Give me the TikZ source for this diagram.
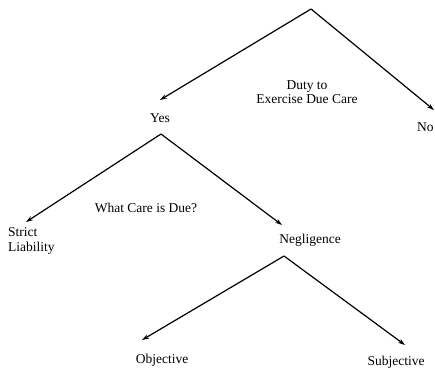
\documentclass[tikz,border=0pt]{standalone}
\usepackage{fontspec}
\setmainfont{Liberation Serif}
\usetikzlibrary{arrows.meta}
\begin{document}
\begin{tikzpicture}[x=1pt,y=-1pt,
  branch/.style={line width=1.2pt,-{Stealth[length=7pt,width=4.5pt]}},
  lbl/.style={inner sep=0pt,font=\fontsize{13.5}{15}\selectfont},
  question/.style={inner sep=0pt,align=center,font=\fontsize{13.5}{14}\selectfont}]
\useasboundingbox (0,0) rectangle (435,375);

% first decision: duty to exercise due care
\coordinate (top) at (311,9);
\coordinate (yesend) at (160,100);
\coordinate (noend) at (434,110);
\draw[branch] (top) -- (yesend);
\draw[branch] (top) -- (noend);
\node[question] (duty) at (307,92) {Duty to\\Exercise Due Care};
\node[lbl] (yes) at (160,118) {Yes};
\node[lbl,anchor=west] (no) at (417,127) {No};

% second decision: what care is due
\coordinate (care) at (161,134);
\coordinate (strictend) at (26,222);
\coordinate (neglend) at (282,225);
\draw[branch] (care) -- (strictend);
\draw[branch] (care) -- (neglend);
\node[lbl] (what) at (146,208) {What Care is Due?};
\node[lbl,anchor=west,align=left] (strict) at (8,241) {Strict\\Liability};
\node[lbl] (negl) at (310,240) {Negligence};

% third decision: standard of negligence
\coordinate (std) at (284,256);
\coordinate (objend) at (142,340);
\coordinate (subjend) at (405,345);
\draw[branch] (std) -- (objend);
\draw[branch] (std) -- (subjend);
\node[lbl] (obj) at (162,360) {Objective};
\node[lbl] (subj) at (396,362) {Subjective};
\end{tikzpicture}
\end{document}
